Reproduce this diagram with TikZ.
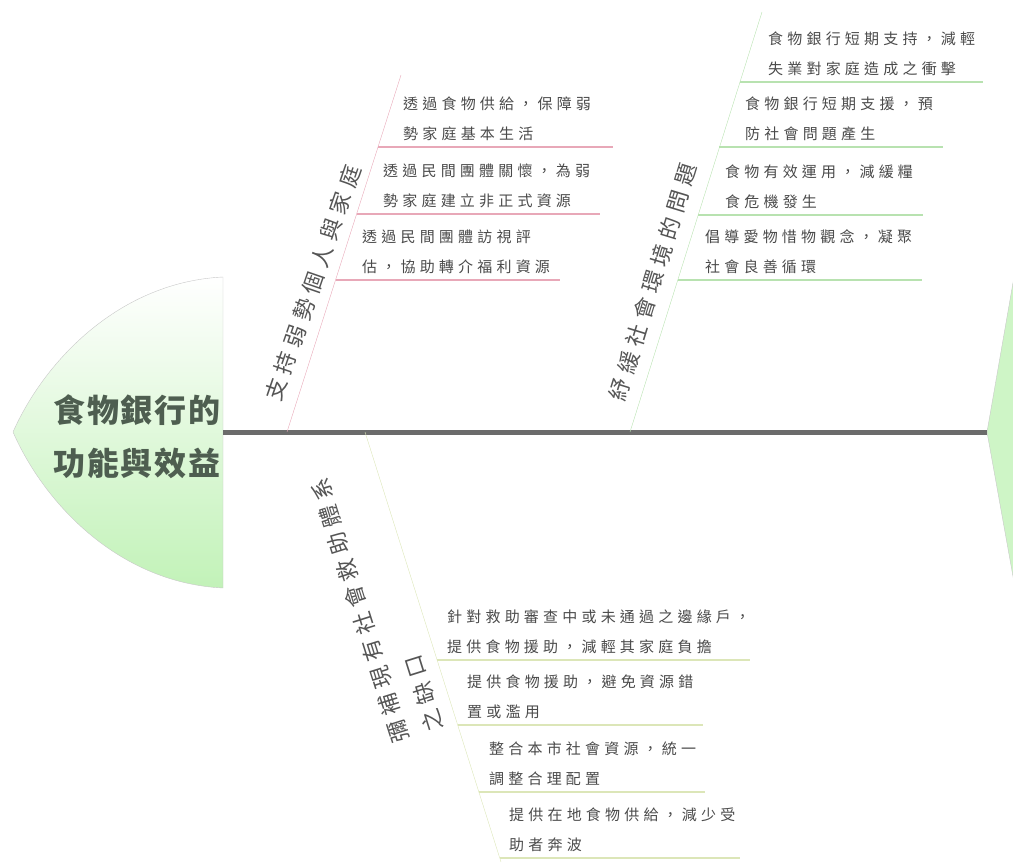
\documentclass[tikz,border=0pt]{standalone}
\usepackage{fontspec}
\setmainfont{Noto Sans CJK TC}[LetterSpace=28]
\newfontfamily\headfont{Noto Sans CJK TC}[LetterSpace=6]
\definecolor{headgreen}{HTML}{C2F2B8}
\definecolor{rimgray}{HTML}{C8C8C8}
\definecolor{spinegray}{HTML}{6B6B6B}
\definecolor{pinkline}{HTML}{E8A8B8}
\definecolor{greenline}{HTML}{B8E2B0}
\definecolor{oliveline}{HTML}{DCE6B8}
\definecolor{itemgray}{HTML}{4A4A4A}
\definecolor{labelgray}{HTML}{555555}
\definecolor{headtext}{HTML}{4E5E50}
\tikzset{
  item/.style={anchor=south west, inner sep=0pt, align=left, text=itemgray,
    font=\fontsize{15}{30}\selectfont},
  branchlabel/.style={inner sep=0pt, align=left, text=labelgray,
    font=\fontsize{22}{36}\selectfont},
  spine/.style={line width=5pt, spinegray},
}
\begin{document}
\begin{tikzpicture}[x=1pt,y=-1pt]
\useasboundingbox (0,0) rectangle (1013,867);
\clip (0,0) rectangle (1013,867);
% head and tail
\shadedraw[top color=white, bottom color=headgreen, draw=rimgray] (223,277) .. controls (120,282) and (45,360) .. (13,432) .. controls (45,505) and (120,583) .. (223,588) -- cycle;
\fill[headgreen!80] (1014,277) -- (987,432) -- (1014,582) -- cycle;
\draw[rimgray] (1014,277) -- (987,432) -- (1014,582);
\coordinate (hd) at (223,432);
\coordinate (tl) at (987,432);
\node[align=center, inner sep=0pt, text=headtext, font=\headfont\bfseries\fontsize{32}{53}\selectfont] (head) at (137,437) {食物銀行的\\功能與效益};
\draw[spine] (hd) -- (tl);
% branch: individuals and families
\coordinate (a0) at (287,432);
\coordinate (a9) at (401,75);
\draw[pinkline] (a0) -- (a9);
\node[branchlabel, rotate=71] (la) at (313,283) {支持弱勢個人與家庭};
\coordinate (a1s) at (378,147);
\coordinate (a1e) at (613,147);
\draw[pinkline, line width=1.3pt] (a1s) -- (a1e);
\node[item] (a1) at (403,141) {透過食物供給，保障弱\\勢家庭基本生活};
\coordinate (a2s) at (357,214);
\coordinate (a2e) at (600,214);
\draw[pinkline, line width=1.3pt] (a2s) -- (a2e);
\node[item] (a2) at (383,208) {透過民間團體關懷，為弱\\勢家庭建立非正式資源};
\coordinate (a3s) at (336,280);
\coordinate (a3e) at (560,280);
\draw[pinkline, line width=1.3pt] (a3s) -- (a3e);
\node[item] (a3) at (362,274) {透過民間團體訪視評\\估，協助轉介福利資源};
% branch: social problems
\coordinate (b0) at (630,432);
\coordinate (b9) at (762,12);
\draw[greenline] (b0) -- (b9);
\node[branchlabel, rotate=73] (lb) at (653,282) {紓緩社會環境的問題};
\coordinate (b1s) at (740,82);
\coordinate (b1e) at (983,82);
\draw[greenline, line width=1.3pt] (b1s) -- (b1e);
\node[item] (b1) at (768,76) {食物銀行短期支持，減輕\\失業對家庭造成之衝擊};
\coordinate (b2s) at (719,147);
\coordinate (b2e) at (943,147);
\draw[greenline, line width=1.3pt] (b2s) -- (b2e);
\node[item] (b2) at (745,141) {食物銀行短期支援，預\\防社會問題產生};
\coordinate (b3s) at (698,215);
\coordinate (b3e) at (923,215);
\draw[greenline, line width=1.3pt] (b3s) -- (b3e);
\node[item] (b3) at (725,209) {食物有效運用，減緩糧\\食危機發生};
\coordinate (b4s) at (678,280);
\coordinate (b4e) at (922,280);
\draw[greenline, line width=1.3pt] (b4s) -- (b4e);
\node[item] (b4) at (705,274) {倡導愛物惜物觀念，凝聚\\社會良善循環};
% branch: gaps in social assistance
\coordinate (c0) at (365,432);
\coordinate (c9) at (501,862);
\draw[oliveline] (c0) -- (c9);
\node[branchlabel, rotate=107.5] (lc) at (377,605) {彌補現有社會救助體系\\之缺口};
\coordinate (c1s) at (437,660);
\coordinate (c1e) at (750,660);
\draw[oliveline, line width=1.3pt] (c1s) -- (c1e);
\node[item] (c1) at (447,654) {針對救助審查中或未通過之邊緣戶，\\提供食物援助，減輕其家庭負擔};
\coordinate (c2s) at (458,725);
\coordinate (c2e) at (703,725);
\draw[oliveline, line width=1.3pt] (c2s) -- (c2e);
\node[item] (c2) at (467,719) {提供食物援助，避免資源錯\\置或濫用};
\coordinate (c3s) at (479,792);
\coordinate (c3e) at (705,792);
\draw[oliveline, line width=1.3pt] (c3s) -- (c3e);
\node[item] (c3) at (489,786) {整合本市社會資源，統一\\調整合理配置};
\coordinate (c4s) at (500,858);
\coordinate (c4e) at (740,858);
\draw[oliveline, line width=1.3pt] (c4s) -- (c4e);
\node[item] (c4) at (509,852) {提供在地食物供給，減少受\\助者奔波};
\end{tikzpicture}
\end{document}
